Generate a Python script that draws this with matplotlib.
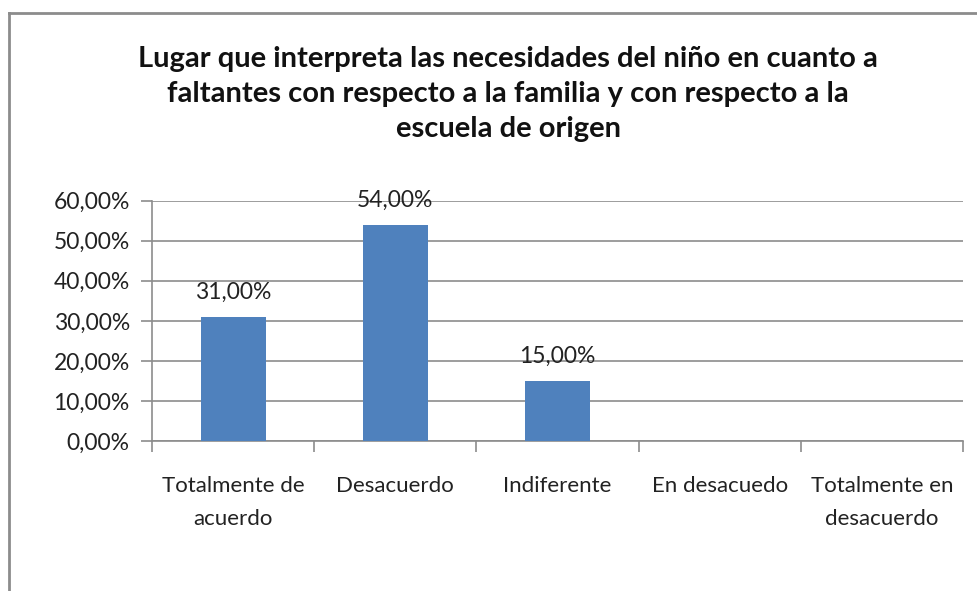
import matplotlib.pyplot as plt
import numpy as np
from matplotlib.lines import Line2D

# Datos del gráfico
categorias = ["Totalmente de\nacuerdo", "Desacuerdo", "Indiferente",
              "En desacuedo", "Totalmente en\ndesacuerdo"]
valores = [31.0, 54.0, 15.0, 0.0, 0.0]
etiquetas = ["31,00%", "54,00%", "15,00%", None, None]
y_ticks = [0, 10, 20, 30, 40, 50, 60]

titulo = ("Lugar que interpreta las necesidades del niño en cuanto a\n"
          "faltantes con respecto a la familia y con respecto a la\n"
          "escuela de origen")

plt.rcParams['font.family'] = ['Lato', 'DejaVu Sans']

W, H = 977, 591
fig = plt.figure(figsize=(W / 100, H / 100), dpi=100)
ax = fig.add_axes([152 / W, 1 - 441 / H, (963 - 152) / W, (441 - 200.7) / H])

gris = "#8c8c8c"
texto = "#222222"
x = np.arange(len(categorias))
ax.bar(x, valores, width=0.4, color="#4f81bd", zorder=3)

# etiquetas de valor sobre las barras
for xi, v, lab in zip(x, valores, etiquetas):
    if lab:
        ax.text(xi, v + 3.4, lab, ha="center", va="bottom", fontsize=16.5, color=texto)

ax.set_xlim(-0.5, len(categorias) - 0.5)
ax.set_ylim(0, 60)
ax.set_yticks(y_ticks)
ax.set_yticklabels([f"{t},00%" for t in y_ticks], fontsize=16.5, color=texto)
ax.yaxis.grid(True, color=gris, linewidth=1.2, zorder=0)

# marcas del eje x entre categorías
ax.set_xticks(np.arange(-0.5, len(categorias)), minor=False)
ax.set_xticklabels([])
ax.set_xticks(x, minor=True)
ax.set_xticklabels(categorias, minor=True, fontsize=16, color=texto, linespacing=1.8)
ax.tick_params(axis="x", which="minor", length=0, pad=25)
ax.tick_params(axis="x", which="major", length=8, color=gris, width=1.2)
ax.tick_params(axis="y", length=8, color=gris, width=1.2, pad=8)

for s in ["top", "right"]:
    ax.spines[s].set_visible(False)
for s in ["left", "bottom"]:
    ax.spines[s].set_color(gris)
    ax.spines[s].set_linewidth(1.2)

fig.text(508 / W, 1 - 46 / H, titulo, ha="center", va="top", fontsize=21,
         fontweight="bold", color="#111111", linespacing=1.43)

# marco del gráfico (bordes superior e izquierdo visibles)
fig.add_artist(Line2D([9 / W, 9 / W], [0, 1 - 13 / H], color=gris, linewidth=2))
fig.add_artist(Line2D([9 / W, 1], [1 - 13 / H, 1 - 13 / H], color=gris, linewidth=2))

fig.savefig("out.png", dpi=100)
